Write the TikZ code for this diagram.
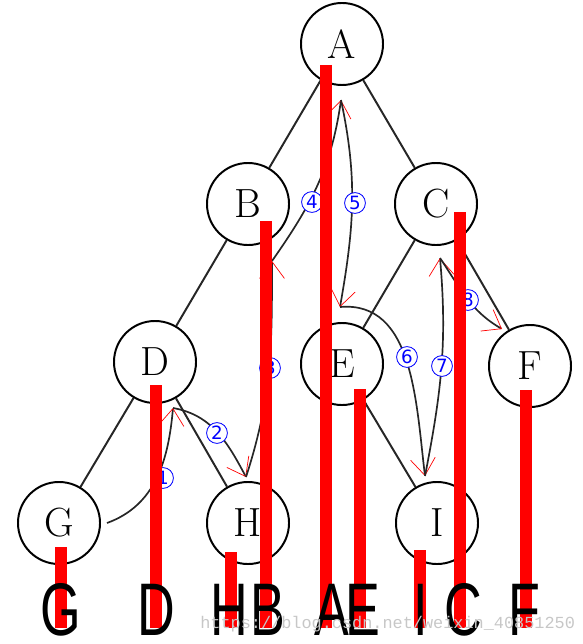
\documentclass[tikz,border=0pt]{standalone}
\usepackage{fontspec}
\newfontfamily\circfont{DejaVu Sans}
\newfontfamily\orderfont[FakeStretch=0.7]{Liberation Sans}
\newfontfamily\markfont{Liberation Mono}
\usetikzlibrary{arrows.meta,calc,positioning}

\begin{document}
\begin{tikzpicture}[
    x=0.025cm, y=-0.025cm,
    vertex/.style={draw, circle, line width=1.4pt, minimum size=2.05cm, inner sep=0pt, font=\fontsize{29}{30}\selectfont},
    edge/.style={line width=1.4pt, black!85},
    walk/.style={line width=1.2pt, black!85, -{Straight Barb[red, length=0.42cm, width=0.62cm, line width=0.5pt]}},
    stepnum/.style={circle, draw=blue, line width=0.6pt, fill=white, text=blue, inner sep=0pt, minimum size=0.52cm, font=\circfont\fontsize{13}{13}\selectfont},
    inorder/.style={red, line width=0.3cm},
    outletter/.style={anchor=base, inner sep=0pt, font=\orderfont\fontsize{53}{53}\selectfont},
    watermark/.style={anchor=base west, inner sep=0pt, text=black!22, font=\markfont\fontsize{12}{12}\selectfont}
  ]
    \useasboundingbox (0,0) rectangle (583,644);

    % Tree nodes
    \node[vertex] (A) at (342,44) {A};
    \node[vertex] (B) at (248,204) {B};
    \node[vertex] (C) at (436,204) {C};
    \node[vertex] (D) at (155,362) {D};
    \node[vertex] (E) at (342,364) {E};
    \node[vertex] (F) at (530,366) {F};
    \node[vertex] (G) at (59,523) {G};
    \node[vertex] (H) at (248,523) {H};
    \node[vertex] (I) at (437,523) {I};

    \draw[edge] (A) -- (B);
    \draw[edge] (A) -- (C);
    \draw[edge] (B) -- (D);
    \draw[edge] (C) -- (E);
    \draw[edge] (C) -- (F);
    \draw[edge] (D) -- (G);
    \draw[edge] (D) -- (H);
    \draw[edge] (E) -- (I);

    % Walk around the tree
    \coordinate (g1) at ($(G)+(48,0)$);
    \coordinate (d12) at ($(D)+(18,46)$);
    \coordinate (h23) at ($(H)+(-2,-46)$);
    \coordinate (b34) at ($(B)+(24,57)$);
    \coordinate (a45) at ($(A)+(-1,56)$);
    \coordinate (e56) at ($(E)+(-2,-57)$);
    \coordinate (i67) at ($(I)+(-12,-47)$);
    \coordinate (c78) at ($(C)+(4,54)$);
    \coordinate (f8) at ($(F)+(-28,-37)$);

    \draw[walk] (g1) to[out=20, in=-95] (d12);
    \draw[walk] (d12) to[out=-10, in=118] (h23);
    \draw[walk] (h23) to[out=72, in=-90] (b34);
    \draw[walk] (b34) to[out=55, in=-98] (a45);
    \draw[walk] (a45) to[out=-78, in=80] (e56);
    \draw[walk] (e56) to[out=5, in=97] (i67);
    \draw[walk] (i67) to[out=79, in=-85] (c78);
    \draw[walk] (c78) to[out=-56, in=150] (f8);

    \node[stepnum] (s1) at (163,478) {1};
    \node[stepnum] (s2) at (217,433) {2};
    \node[stepnum] (s3) at (270,368) {3};
    \node[stepnum] (s4) at (312,202) {4};
    \node[stepnum] (s5) at (355,203) {5};
    \node[stepnum] (s6) at (407,357) {6};
    \node[stepnum] (s7) at (442,366) {7};
    \node[stepnum] (s8) at (468,300) {8};

    % In-order projection
    \coordinate (barend) at (0,628);
    \draw[inorder] ($(G)+(2,24)$) coordinate (tG) -- (tG |- barend);
    \draw[inorder] ($(D)+(1,23)$) coordinate (tD) -- (tD |- barend);
    \draw[inorder] ($(H)+(-17,29)$) coordinate (tH) -- (tH |- barend);
    \draw[inorder] ($(B)+(18,17)$) coordinate (tB) -- (tB |- barend);
    \draw[inorder] ($(A)+(-16,21)$) coordinate (tA) -- (tA |- barend);
    \draw[inorder] ($(E)+(18,25)$) coordinate (tE) -- (tE |- barend);
    \draw[inorder] ($(I)+(-17,27)$) coordinate (tI) -- (tI |- barend);
    \draw[inorder] ($(C)+(24,8)$) coordinate (tC) -- (tC |- barend);
    \draw[inorder] ($(F)+(-4,24)$) coordinate (tF) -- (tF |- barend);

    \node[outletter] (oG) at (61,635) {G};
    \node[outletter] (oD) at (156,635) {D};
    \node[outletter] (oH) at (229,635) {H};
    \node[outletter] (oB) at (268,635) {B};
    \node[outletter] (oA) at (332,635) {A};
    \node[outletter] (oE) at (363,635) {E};
    \node[outletter] (oI) at (421,635) {I};
    \node[outletter] (oC) at (463,635) {C};
    \node[outletter] (oF) at (524,635) {F};

    \node[watermark] (mark) at (200,628) {https://blog.csdn.net/weixin\_40851250};
  \end{tikzpicture}
\end{document}
